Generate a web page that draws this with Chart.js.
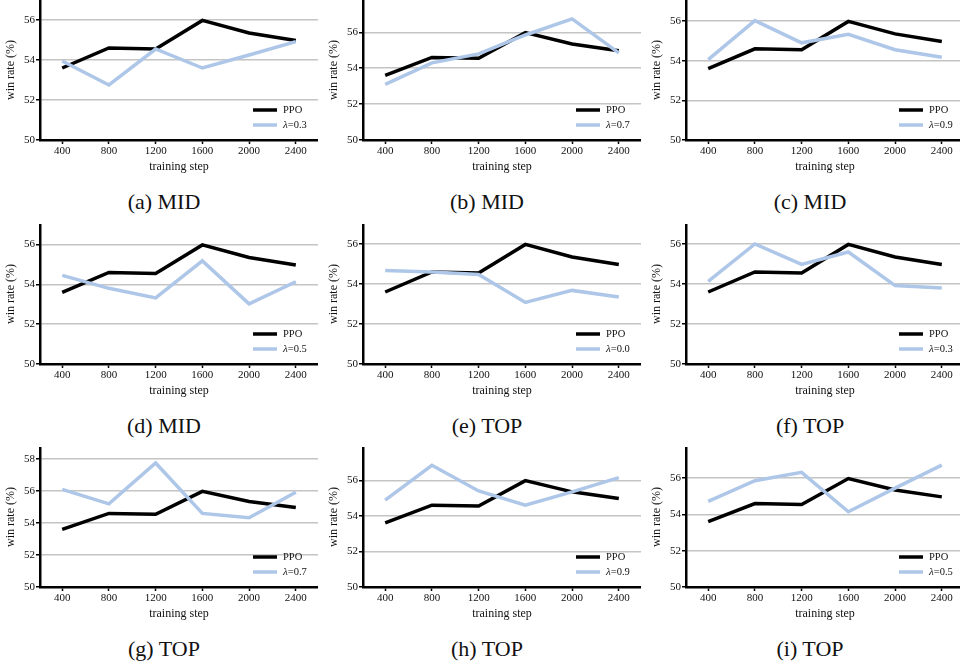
<!DOCTYPE html>
<html>
<head>
<meta charset="utf-8">
<script src="https://cdn.jsdelivr.net/npm/chart.js@4.4.1/dist/chart.umd.min.js"></script>
<style>
  body { margin: 0; background: #fff; width: 960px; height: 667px; overflow: hidden; position: relative; }
  .panel { position: absolute; }
  .cap { position: absolute; width: 200px; height: 26px; line-height: 26px; text-align: center;
         font-family: "Liberation Serif", "DejaVu Serif", serif; font-size: 22px; color: #111; }
</style>
</head>
<body>
<script>
// data
const steps = [400, 800, 1200, 1600, 2000, 2400];
const yTicks = [50, 52, 54, 56, 58];
const ppo = [53.6, 54.6, 54.55, 55.98, 55.35, 54.97];

const lamA = [53.95, 52.75, 54.55, 53.6, 54.25, 54.92];
const lamB = [53.1, 54.3, 54.8, 55.85, 56.75, 54.85];
const lamC = [54.05, 56.02, 54.9, 55.33, 54.55, 54.17];
const lamD = [54.45, 53.8, 53.32, 55.18, 53.02, 54.13];
const lamE = [54.68, 54.6, 54.48, 53.08, 53.68, 53.35];
const lamF = [54.13, 56.0, 54.98, 55.6, 53.92, 53.8];
const lamG = [56.1, 55.2, 57.75, 54.6, 54.33, 55.92];
const lamH = [54.88, 56.84, 55.4, 54.6, 55.35, 56.15];
const lamI = [54.72, 55.86, 56.32, 54.15, 55.45, 56.72];

const lamSeries = [lamA, lamB, lamC, lamD, lamE, lamF, lamG, lamH, lamI];
const lamLabels = ['λ=0.3', 'λ=0.7', 'λ=0.9', 'λ=0.5', 'λ=0.0', 'λ=0.3', 'λ=0.7', 'λ=0.9', 'λ=0.5'];
const captions = ['(a) MID', '(b) MID', '(c) MID', '(d) MID', '(e) TOP', '(f) TOP', '(g) TOP', '(h) TOP', '(i) TOP'];
const yMax = [57, 57.8, 57.06, 57.03, 57, 57, 58.75, 57.87, 57.72];

const FONT = '"Liberation Serif", "DejaVu Serif", serif';
const colLeft = [0, 323, 646];
const rowTop = [0, 224, 447];

// legend drawn inside the plot, bottom right
const innerLegend = {
  id: 'innerLegend',
  afterDatasetsDraw(chart) {
    const ctx = chart.ctx;
    const a = chart.chartArea;
    chart.data.datasets.forEach((ds, i) => {
      const y = a.bottom - 30 + i * 15;
      ctx.save();
      ctx.strokeStyle = ds.borderColor;
      ctx.lineWidth = 3.5;
      ctx.beginPath();
      ctx.moveTo(a.right - 65, y);
      ctx.lineTo(a.right - 41, y);
      ctx.stroke();
      ctx.fillStyle = '#111';
      ctx.textBaseline = 'middle';
      let x = a.right - 35;
      let txt = ds.label;
      if (txt[0] === 'λ') {
        ctx.font = 'italic 11px ' + FONT;
        ctx.fillText('λ', x, y);
        x += ctx.measureText('λ').width;
        txt = txt.slice(1);
      }
      ctx.font = '10.5px ' + FONT;
      ctx.fillText(txt, x, y);
      ctx.restore();
    });
  }
};

for (let i = 0; i < 9; i++) {
  const div = document.createElement('div');
  div.className = 'panel';
  div.style.left = colLeft[i % 3] + 'px';
  div.style.top = rowTop[Math.floor(i / 3)] + 'px';
  const cv = document.createElement('canvas');
  cv.width = 318;
  cv.height = 175;
  div.appendChild(cv);
  document.body.appendChild(div);

  const cap = document.createElement('div');
  cap.className = 'cap';
  cap.textContent = captions[i];
  cap.style.left = (colLeft[i % 3] + 164 - 100) + 'px';
  cap.style.top = (rowTop[Math.floor(i / 3)] + 202 - 13) + 'px';
  document.body.appendChild(cap);

  const ticksY = yTicks.filter(v => v <= yMax[i]);

  new Chart(cv.getContext('2d'), {
    type: 'line',
    data: {
      datasets: [
        {
          label: 'PPO',
          data: steps.map((s, k) => ({ x: s, y: ppo[k] })),
          borderColor: '#000',
          borderWidth: 3.5,
          order: 2
        },
        {
          label: lamLabels[i],
          data: steps.map((s, k) => ({ x: s, y: lamSeries[i][k] })),
          borderColor: '#aec7e8',
          borderWidth: 3.5,
          order: 1
        }
      ]
    },
    options: {
      responsive: false,
      animation: false,
      layout: { padding: 0 },
      elements: { point: { radius: 0 }, line: { tension: 0, borderCapStyle: 'butt' } },
      plugins: { legend: { display: false }, tooltip: { enabled: false } },
      scales: {
        x: {
          type: 'linear',
          min: 210,
          max: 2590,
          afterBuildTicks: s => { s.ticks = steps.map(v => ({ value: v })); },
          afterFit: s => { s.height = 35; s.paddingLeft = 0; s.paddingRight = 0; },
          grid: { drawOnChartArea: false, tickLength: 4, tickWidth: 1.5, tickColor: '#000' },
          border: { color: '#000', width: 2.5 },
          ticks: {
            color: '#111', padding: 1, maxRotation: 0, autoSkip: false,
            font: { family: FONT, size: 11 },
            callback: v => String(v)
          },
          title: {
            display: true, text: 'training step', color: '#111',
            font: { family: FONT, size: 12 }, padding: { top: 0, bottom: 1 }
          }
        },
        y: {
          min: 50,
          max: yMax[i],
          afterBuildTicks: s => { s.ticks = ticksY.map(v => ({ value: v })); },
          afterFit: s => { s.width = 40; s.paddingTop = 0; s.paddingBottom = 0; },
          grid: {
            color: c => (c.tick && c.tick.value === 50) ? 'rgba(0,0,0,0)' : '#c4c4c4',
            lineWidth: 1.5, tickLength: 4, tickWidth: 1.5, tickColor: '#000'
          },
          border: { color: '#000', width: 2.5 },
          ticks: {
            color: '#111', padding: 1,
            font: { family: FONT, size: 11 },
            callback: v => String(v)
          },
          title: {
            display: true, text: 'win rate (%)', color: '#111',
            font: { family: FONT, size: 12 }, padding: { top: 4, bottom: 0 }
          }
        }
      }
    },
    plugins: [innerLegend]
  });
}
</script>
</body>
</html>
